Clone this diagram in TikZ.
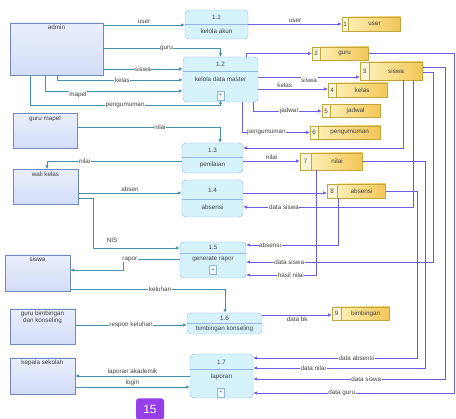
\documentclass[tikz,border=0pt]{standalone}
\usepackage{fontspec}
\setmainfont{Liberation Sans}
\usepackage[svgnames]{xcolor}
\usepackage{tikz}
\usetikzlibrary{positioning,arrows.meta}
\definecolor{entityTop}{RGB}{234,239,252}
\definecolor{entityBottom}{RGB}{210,221,246}
\definecolor{entityLine}{RGB}{110,138,190}
\definecolor{processFill}{RGB}{214,243,252}
\definecolor{processLine}{RGB}{148,180,228}
\definecolor{storeLeft}{RGB}{252,238,178}
\definecolor{storeRight}{RGB}{243,198,86}
\definecolor{storeNumber}{RGB}{252,246,218}
\definecolor{storeLine}{RGB}{196,166,62}
\definecolor{entityFlow}{RGB}{70,146,172}
\definecolor{storeFlow}{RGB}{106,94,228}
\definecolor{pageBadge}{RGB}{150,62,232}
\colorlet{labelText}{black!75}

\begin{document}
\begin{tikzpicture}[
  x=1pt, y=-1pt,
  small text/.style={
    font=\fontsize{6.3}{7.5}\selectfont,
    text=labelText,
  },
  entity/.style={
    draw=entityLine,
    top color=entityTop,
    bottom color=entityBottom,
    inner sep=0pt,
  },
  entity title/.style={
    small text,
    align=center,
    inner sep=1pt,
  },
  process/.style={
    draw=processLine,
    fill=processFill,
    rounded corners=4pt,
    inner sep=0pt,
  },
  process text/.style={
    small text,
    inner sep=0.5pt,
  },
  divider/.style={
    draw=processLine,
  },
  plus box/.style={
    draw=processLine,
    fill=white!60!processFill,
    minimum width=7pt,
    minimum height=9pt,
    inner sep=0pt,
    font=\fontsize{5}{5}\selectfont,
    text=labelText,
  },
  store/.style={
    draw=storeLine,
    left color=storeLeft,
    right color=storeRight,
    small text,
    inner sep=0pt,
  },
  store number/.style={
    draw=storeLine,
    fill=storeNumber,
    small text,
    inner sep=0.3pt,
  },
  entity flow/.style={
    draw=entityFlow,
    line width=0.7pt,
    -{Latex[length=4pt,width=3.6pt]},
  },
  data flow/.style={
    draw=storeFlow,
    line width=0.7pt,
    -{Latex[length=4pt,width=3.6pt]},
  },
  flow label/.style={
    small text,
    fill=white,
    inner sep=0.6pt,
  },
  badge/.style={
    fill=pageBadge,
    rounded corners=2.5pt,
    text=white,
    font=\fontsize{12}{12}\selectfont,
    minimum width=28pt,
    minimum height=21pt,
    inner sep=0pt,
  },
]
\fill[white] (0,0) rectangle (456,419);
\useasboundingbox (0,0) rectangle (456,419);

% external entities
\foreach \e/\cx/\cy/\w/\h/\txt in {
  admin/56.5/49/93/52/admin,
  gurumapel/45/131/64/35/guru mapel,
  walikelas/45.5/187/65/35/wali kelas,
  siswa/37.5/273/65/36/siswa,
  gurubk/42.5/326.5/65/35/{guru bimbingan\\[-1pt]dan konseling},
  kepsek/42.5/376/65/36/kepala sekolah} {
  \node[entity, minimum width=\w pt, minimum height=\h pt] (\e) at (\cx,\cy) {};
  \node[entity title, below=1pt of \e.north] (\e-title) {\txt};
}

% processes
\foreach \p/\cx/\cy/\w/\h/\dv/\ny/\my/\num/\txt in {
  p11/216.5/24.5/63/29/24/17/31.5/1.1/kelola akun,
  p12/220.5/79.5/75/45/71/64/79/1.2/kelola data master,
  p13/212.5/158/61/30/157/150.5/165/1.3/penilaian,
  p14/212.5/198.5/61/37/199/190.5/207/1.4/absensi,
  p15/213/260/66/36/253/247.5/259/1.5/generate rapor,
  p16/224.5/323.5/75/21/323/318/329/1.6/bimbingan konseling,
  p17/221.5/376/63/44/369/362/377/1.7/laporan} {
  \node[process, minimum width=\w pt, minimum height=\h pt] (\p) at (\cx,\cy) {};
  \draw[divider] (\p.west |- 0,\dv) -- (\p.east |- 0,\dv);
  \node[process text] (\p-no) at (\cx,\ny) {\num};
  \node[process text] (\p-name) at (\cx,\my) {\txt};
}
\foreach \p/\bx/\by in {p12/220.5/95.5, p15/213/270, p17/221/392.5} {
  \node[plus box] (\p-plus) at (\bx,\by) {+};
}

% data stores
\foreach \s/\xl/\cy/\h/\nw/\w/\num/\txt in {
  s1/342/24/14/6/52/1/user,
  s2/312/53.5/13/8/48/2/guru,
  s3/360/71/18/9/53/3/siswa,
  s4/328/90/14/8/51/4/kelas,
  s5/322/111/13/8/50/5/jadwal,
  s6/310/132.5/13/8/62/6/pengumuman,
  s7/300/161.5/17/11/51/7/nilai,
  s8/327/191/14/10/48/8/absensi,
  s9/332/313.5/13/9/48/9/bimbingan} {
  \node[store number, minimum width=\nw pt, minimum height=\h pt, anchor=west] (\s-no) at (\xl,\cy) {\num};
  \node[store, minimum width=\w pt, minimum height=\h pt, right=0pt of \s-no] (\s) {\txt};
}

% flows from and to the entities
\draw[entity flow] (admin.east |- 0,25) -- node[flow label, above] (f-user) {user} (p11.west |- 0,25);
\draw[entity flow] (admin.east |- 0,48) -| node[flow label, pos=0.27] (f-guru) {guru} (p12.north);
\draw[entity flow] (admin.east |- 0,69) -- node[flow label] (f-siswa) {siswa} (p12.west |- 0,69);
\draw[entity flow] (admin.south -| 57,0) |- node[flow label, pos=0.76] (f-kelas) {kelas} (p12.west |- 0,80);
\draw[entity flow] (admin.south -| 45,0) |- node[flow label, below, pos=0.62] (f-mapel) {mapel} (p12.west |- 0,91);
\draw[entity flow] (admin.south -| 30,0) |- (p12-plus.south |- 0,105)
  node[flow label, pos=0.75] (f-pengumuman) {pengumuman} -- (p12-plus.south);
\draw[entity flow] (gurumapel.east |- 0,127) -| node[flow label, pos=0.29] (f-nilai) {nilai} (p13.north -| 220,0);
\draw[entity flow] (p13.west |- 0,161) -| node[flow label, pos=0.36] (f-nilai-wk) {nilai} (walikelas.north -| 47,0);
\draw[entity flow] (walikelas.east |- 0,193) -- node[flow label, above] (f-absen) {absen} (p14.west |- 0,193);
\draw[entity flow] (walikelas.east |- 0,198) -| (93,248)
  -- node[flow label, above=4pt, pos=0.22] (f-nis) {NIS} (p15.west |- 0,248);
\draw[entity flow] (p15.west |- 0,259) -- node[flow label, pos=0.88] (f-rapor) {rapor} (123,259)
  |- (siswa.east |- 0,270);
\draw[entity flow] (siswa.east |- 0,289) -| node[flow label, pos=0.29] (f-keluhan) {keluhan} (p16.north -| 225,0);
\draw[entity flow] (gurubk.east |- 0,325) -- node[flow label] (f-respon) {respon keluhan} (p16.west |- 0,325);
\draw[entity flow] (p17.west |- 0,376) -- node[flow label, above] (f-laporan) {laporan akademik} (kepsek.east |- 0,376);
\draw[entity flow] (kepsek.east |- 0,387) -- node[flow label, above] (f-login) {login} (p17.west |- 0,387);

% flows from and to the data stores
\draw[data flow] (p11.east |- 0,24) -- node[flow label, above] (d-user) {user} (s1-no.west);
\draw[data flow] ([xshift=-12pt]p12.north east) |- (s2-no.west);
\draw[data flow] (p12.east |- 0,77) -- node[flow label, below, pos=0.5] (d-siswa) {siswa} (s3-no.west |- 0,77);
\draw[data flow] (p12.east |- 0,89) -- node[flow label, above, pos=0.38] (d-kelas) {kelas} (s4-no.west |- 0,89);
\draw[data flow] ([xshift=-5pt]p12.south east) |- node[flow label, pos=0.76] (d-jadwal) {jadwal} (s5-no.west);
\draw[data flow] (p12.south -| 242,0) |- node[flow label, pos=0.68] (d-pengumuman) {pengumuman} (s6-no.west);
\draw[data flow] (s3.south -| 403,0) |- (p13.east |- 0,148);
\draw[data flow] (p13.east |- 0,161) -- node[flow label, above] (d-nilai) {nilai} (s7-no.west |- 0,161);
\draw[data flow] (p14.east |- 0,193) -- (s8-no.west |- 0,193);
\draw[data flow] (s3.south -| 413,0) |- node[flow label, pos=0.88] (d-siswa-abs) {data siswa} (p14.east |- 0,207);
\draw[data flow] (s8.south -| 338,0) |- node[flow label, pos=0.87] (d-absensi) {absensi} (p15.east |- 0,245);
\draw[data flow] ([yshift=-1pt]s3.east) -| (433,262)
  -- node[flow label, pos=0.77] (d-siswa-rpr) {data siswa} (p15.east |- 0,262);
\draw[data flow] (s7.south -| 316,0) |- node[flow label, pos=0.68] (d-hasil) {hasil nilai} (p15.east |- 0,275);
\draw[data flow] (p16.east |- 0,315) -- node[flow label, below=1pt] (d-bk) {data bk} (s9-no.west |- 0,315);
\draw[data flow] (s8.east) -| (417,358)
  -- node[flow label, pos=0.37] (d-absensi-lp) {data absensi} (p17.east |- 0,358);
\draw[data flow] (s7.east) -| (425,368)
  -- node[flow label, pos=0.65] (d-nilai-lp) {data nilai} (p17.east |- 0,368);
\draw[data flow] ([yshift=4pt]s3.east) -| (445,379)
  -- node[flow label, pos=0.41] (d-siswa-lp) {data siswa} (p17.east |- 0,379);
\draw[data flow] (s2.east) -| (454.5,393)
  -- node[flow label, pos=0.56] (d-guru-lp) {data guru} (p17.east |- 0,393);

\node[badge] (page) at (150,409) {15};
\end{tikzpicture}
\end{document}
